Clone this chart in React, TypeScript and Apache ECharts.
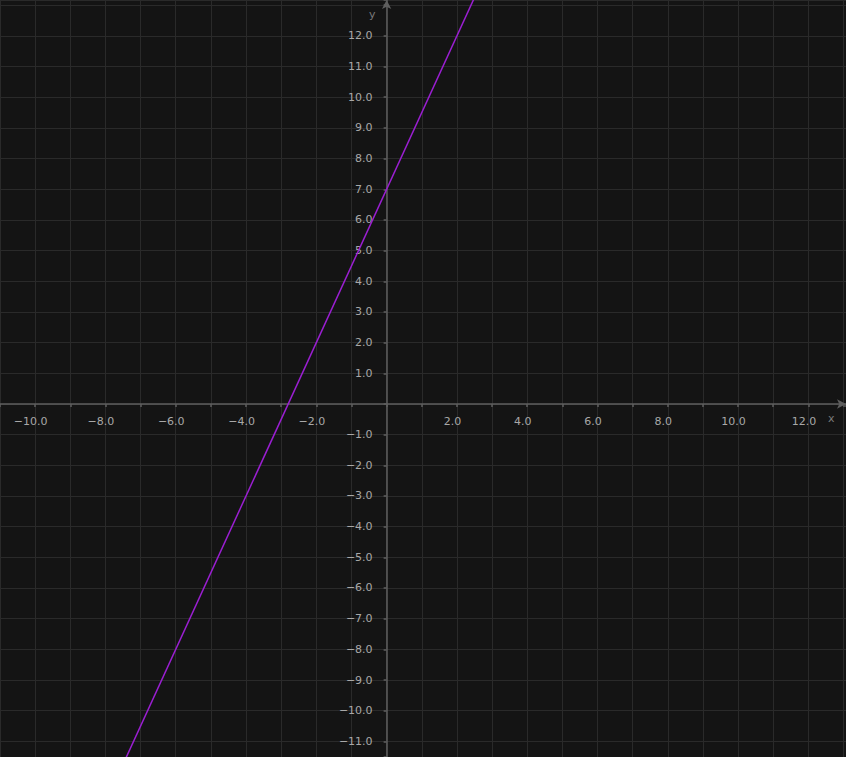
import React, { useEffect, useRef } from "react";
import * as echarts from "echarts";

// Line y = 2.5x + 7 at its two ends
const lineX = [-12, 14];
const lineY = [-23, 42];

const xMin = -11;
const xMax = 13.07;
const yMin = -11.51;
const yMax = 13.17;

// labelled tick ranges
const xLabelMin = -10;
const xLabelMax = 12;
const yLabelMin = -11;
const yLabelMax = 12;

const W = 846;
const H = 757;

const BG = "#141414";
const GRID = "#2a2a2a";
const AXIS = "#5e5e5e";
const LABEL = "#a8a8a8";
const LINE = "#9b1fd2";

const fmt = (v: number) => {
  const s = Math.abs(v).toFixed(1);
  return v < 0 ? "\u2212" + s : s;
};

export default function App() {
  const ref = useRef<HTMLDivElement>(null);
  useEffect(() => {
    document.body.style.margin = "0";
    document.body.style.background = BG;
    const chart = echarts.init(ref.current!, null, { renderer: "svg" });
    const isInt = (v: number) => Math.abs(v - Math.round(v)) < 1e-6;
    // distance of the zero lines from the grid's left and bottom edges
    const xZeroFromLeft = ((0 - xMin) / (xMax - xMin)) * W;
    const yZeroFromBottom = ((0 - yMin) / (yMax - yMin)) * H;
    chart.setOption({
      animation: false,
      backgroundColor: BG,
      grid: {
        left: 0,
        right: 0,
        top: 0,
        bottom: 0,
        containLabel: false,
        outerBoundsMode: "none",
      },
      xAxis: {
        type: "value",
        min: xMin,
        max: xMax,
        interval: 1,
        position: "bottom",
        offset: -yZeroFromBottom,
        axisLine: {
          onZero: false,
          lineStyle: { color: AXIS, width: 1.5 },
          symbol: ["none", "arrow"],
          symbolSize: [7, 9],
        },
        axisTick: {
          show: true,
          length: 3,
          lineStyle: { color: AXIS, width: 1.5 },
          interval: (_i: number, v: any) => isInt(Number(v)),
        },
        splitLine: {
          show: true,
          lineStyle: { color: GRID, width: 1 },
          interval: (_i: number, v: any) => isInt(Number(v)),
        },
        axisLabel: {
          color: LABEL,
          fontFamily: "DejaVu Sans",
          fontSize: 11,
          margin: 12,
          padding: [0, 9, 0, 0],
          showMinLabel: true,
          showMaxLabel: true,
          hideOverlap: false,
          interval: 0,
          formatter: (v: number) => {
            if (!isInt(v)) return "";
            const r = Math.round(v);
            if (r === 0 || r % 2 !== 0 || r < xLabelMin || r > xLabelMax) return "";
            return fmt(r);
          },
        },
      },
      yAxis: {
        type: "value",
        min: yMin,
        max: yMax,
        minInterval: 1,
        maxInterval: 1,
        position: "left",
        offset: -xZeroFromLeft,
        axisLine: {
          onZero: false,
          lineStyle: { color: AXIS, width: 1.5 },
          symbol: ["none", "arrow"],
          symbolSize: [7, 9],
        },
        axisTick: {
          show: true,
          length: 3,
          lineStyle: { color: AXIS, width: 1.5 },
          interval: (_i: number, v: any) => isInt(Number(v)),
        },
        splitLine: {
          show: true,
          lineStyle: { color: GRID, width: 1 },
          interval: (_i: number, v: any) => isInt(Number(v)),
        },
        axisLabel: {
          color: LABEL,
          fontFamily: "DejaVu Sans",
          fontSize: 11,
          margin: 14,
          interval: 0,
          hideOverlap: false,
          formatter: (v: number) => {
            if (!isInt(v)) return "";
            const r = Math.round(v);
            if (r === 0 || r < yLabelMin || r > yLabelMax) return "";
            return fmt(r);
          },
        },
      },
      series: [
        {
          type: "line",
          data: lineX.map((x, i) => [x, lineY[i]]),
          showSymbol: false,
          lineStyle: { color: LINE, width: 1.5 },
          clip: true,
          z: 5,
        },
      ],
      graphic: [
        {
          type: "text",
          left: 828,
          top: 413,
          style: { text: "x", fill: "#7a7a7a", font: "11px DejaVu Sans" },
        },
        {
          type: "text",
          left: 369,
          top: 9,
          style: { text: "y", fill: "#7a7a7a", font: "11px DejaVu Sans" },
        },
      ],
    });
    return () => chart.dispose();
  }, []);
  return <div ref={ref} style={{ width: W, height: H }} />;
}
